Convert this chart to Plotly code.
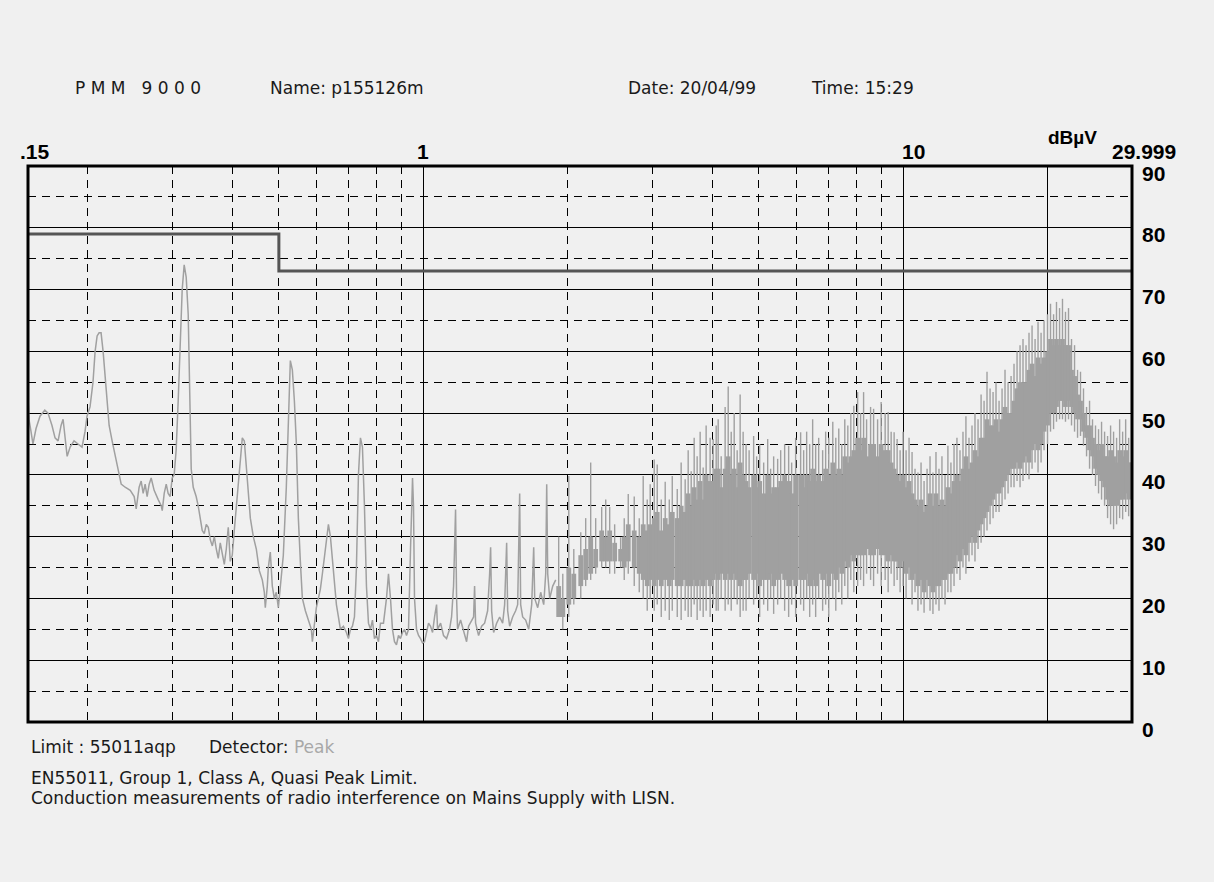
import plotly.graph_objects as go

# ---------------- data ----------------
# Peak detector trace, low-frequency part (MHz, dBuV)
lf_f = [0.150,0.1507,0.1522,0.1536,0.1559,0.1589,0.1626,0.1651,0.1683,0.1708,
        0.1733,0.1758,0.1775,0.1792,0.1810,0.1836,0.1871,0.1907,0.1944,0.1972,
        0.1991,0.2020,0.2049,0.2070,0.2090,0.2110,0.2130,0.2151,0.2172,0.2193,
        0.2214,0.2246,0.2279,0.2312,0.2346,0.2391,0.2450,0.2497,0.2521,0.2557,
        0.2582,0.2607,0.2632,0.2657,0.2683,0.2709,0.2748,0.2802,0.2843,0.2857,
        0.2884,0.2912,0.2939,0.2968,0.2996,0.3025,0.3054,0.3084,0.3114,0.3144,
        0.3174,0.3205,0.3236,0.3252,0.3267,0.3283,0.3315,0.3362,0.3395,0.3428,
        0.3461,0.3495,0.3529,0.3563,0.3598,0.3633,0.3668,0.3703,0.3738,0.3774,
        0.3811,0.3848,0.3885,0.3922,0.3960,0.3998,0.4037,0.4076,0.4115,0.4155,
        0.4195,0.4236,0.4277,0.4318,0.4360,0.4423,0.4487,0.4552,0.4618,0.4663,
        0.4685,0.4730,0.4753,0.4799,0.4845,0.4892,0.4939,0.4987,0.5035,0.5108,
        0.5182,0.5233,0.5283,0.5334,0.5386,0.5438,0.5490,0.5543,0.5597,0.5678,
        0.5761,0.5844,0.5872,0.5929,0.5986,0.6044,0.6102,0.6161,0.6220,0.6281,
        0.6342,0.6403,0.6465,0.6527,0.6590,0.6654,0.6718,0.6816,0.6914,0.6982,
        0.7049,0.7117,0.7186,0.7255,0.7325,0.7396,0.7467,0.7539,0.7612,0.7686,
        0.7760,0.7835,0.7910,0.7987,0.8064,0.8142,0.8260,0.8380,0.8461,0.8543,
        0.8625,0.8708,0.8792,0.8878,0.8963,0.9050,0.9137,0.9226,0.9315,0.9405,
        0.9450,0.9496,0.9541,0.9587,0.9680,0.9774,0.9868,0.9963,1.0059,1.0157,
        1.0255,1.0354,1.0454,1.0555,1.0657,1.0708,1.0864,1.1021,1.1181,1.1343,
        1.1453,1.1563,1.1675,1.1732,1.1788,1.1959,1.2133,1.2309,1.2428,1.2608,
        1.2730,1.2791,1.2853,1.3040,1.3229,1.3421,1.3616,1.3748,1.3814,1.3881,
        1.4015,1.4218,1.4425,1.4634,1.4775,1.4918,1.4990,1.5135,1.5354,1.5577,
        1.5728,1.5880,1.5956,1.6110,1.6344,1.6583,1.6823,1.6986,1.7068,1.7316,
        1.7567,1.7822,1.7994,1.8081,1.8168,1.8344,1.8610,1.8880]
lf_db = [52.5,49,47,45,47.5,49.5,50.5,50,48,46,
         45.5,48,49,46.5,43,44.5,45.5,45,44.5,47,
         49.5,51,55,60,62.5,63,63,60,56,52,
         48,45.5,43,41,38.5,38,37.5,36.5,34.5,38,
         39,37,38.5,36.5,38.5,39.5,37.5,36,35,34.2,
         37,38.5,37,36.5,39.5,40,44,52,62,70,
         74,72,66,58,50,41,38,36.5,35,33,
         31,30.5,32,31.5,29.5,28.5,30,28,26.5,29,
         27,25.5,28,31.5,26,27,31,35,39,43,
         46,45.5,41,36,33,30,28,24.5,23,21,
         18.5,22,25,27.5,22,20,21,18.5,22,27,
         38,50,58.5,57,52,45,33,26,20,18,
         16.5,15,13,16,18.5,20,21.5,24,27,30,
         32,30,26,22,19,17,15,15.5,14.5,13.5,
         15,15.5,17,25,40,46,44.5,35,22,16,
         15,16.5,13.5,14,13,16,16,20,24,20,
         15,13,12.5,14,13.5,14.5,15,14,15,28,
         36,39.5,35,20,15,14,13.5,12.8,13,14.5,
         16,15.5,14.5,17,19,15,16,14,13.5,15,
         17,22,34.4,20,15,16.5,14.5,13,15.5,16.5,
         17,22,16,14,15.5,16,18,24,28.3,18,
         14.5,16,17,16,19,29,18,15.5,17,18,
         19,37,19,17,16.5,15,19,28.3,20,18.5,
         21,19,24,38.5,24,20,22,23]

# Dense high-frequency part, one sweep column per frequency (MHz)
spk_f = [1.915,1.953,2.010,2.059,2.129,2.180,2.233,2.287,2.354,2.400,
         2.446,2.505,2.578,2.623,2.674,2.752,2.819,2.873,2.929,2.971,
         3.029,3.073,3.133,3.193,3.256,3.303,3.383,3.447,3.514,3.565,
         3.617,3.669,3.722,3.776,3.831,3.886,3.961,4.019,4.078,4.117,
         4.177,4.257,4.320,4.383,4.446,4.510,4.575,4.641,4.707,4.776,
         4.881,4.952,5.024,5.122,5.221,5.296,5.373,5.477,5.557,5.664,
         5.774,5.858,5.971,6.116,6.205,6.295,6.387,6.479,6.573,6.669,
         6.797,6.896,7.000,7.136,7.240,7.344,7.451,7.559,7.670,7.781,
         7.894,8.040,8.155,8.273,8.393,8.556,8.680,8.848,9.000,9.175,
         9.308,9.443,9.579,9.718,9.858,10.0,10.145,10.29,10.44,10.59,
         10.74,10.9,11.06,11.22,11.38,11.54,11.71,11.88,12.05,12.23,
         12.4,12.58,12.77,12.95,13.14,13.33,13.52,13.72,13.92,14.12,
         14.33,14.54,14.75,14.96,15.18,15.4,15.62,15.85,16.08,16.31,
         16.55,16.79,17.03,17.28,17.53,17.78,18.04,18.3,18.57,18.84,
         19.11,19.39,19.67,20.0,20.29,20.59,20.88,21.19,21.49,21.8,
         22.12,22.44,22.77,23.1,23.43,23.77,24.12,24.47,24.82,25.18,
         25.55,25.92,26.3,26.68,27.07,27.46,27.86,28.27,28.68,29.1,
         29.52,29.95]
# spike tips (max) and spike bottoms (min), dBuV
spk_hi = [30,24,39.8,28,30.7,33,42,33,34.8,36,
          34.8,32,29.9,33,36.9,36.5,33,39.8,36,38.5,
          42.5,41.7,36,38.9,36,39.8,37.7,42,39.3,44,
          40.6,46,43,47,41.2,48,46,45.8,48,49,
          43,51,54.3,47,50,44,53,47,45,44,
          46.3,43,45,42,45.8,41,43,42.6,44,45,
          44.7,42,46,46.9,44,47,45,49,45,46,
          44,47,46,48.6,46,47.5,45,49,48,50,
          51.2,53.4,50,53.4,49,51,50.7,49,51.8,50,
          50.2,47,46.9,45.8,44,47,44,46,43.7,41,
          40.4,42,39,41,43,40.4,43.7,41,43,40,
          44.7,42,45,46,44,47,49.5,46,48,50,
          49,53,52,56.7,54,53.4,55,52,54,57,
          55,56,58,60,61,62,61,63,64.2,62,
          64.8,63,65,66,67.7,66,68,67,68.5,66.4,
          67,62,61,57,56.7,54,51,52,49,48,
          47.4,48.6,47,46.3,48,47,46,49,47,49,
          46,45.8]
spk_lo = [17,15,17,19,20,22,23,24,25,25,
          24,24,25,23,24,22,21,20,18,20,
          18,19,17,18,16.5,18,17,16.5,18,17,
          17,19,16.5,18,17,18,17,19,18,18,
          20,18,19,18,20,19,17,18,18,20,
          19,20,17,19,18,20,17.5,19,20,18,
          17,19,17,19,18,20,17,19,17,20,
          18,19,17,20,18,21,19,22,20,23,
          21,22,23,22,24,23,22,24,22,23,
          21,24,22,23,21,22,20,23,19,21,
          18,19,17.7,20,18,17.5,19,18,20,19,
          21,21,22,24,23,25,24,26,27,26,
          28,29,30,31,32,33,34,34,35,36,
          37,38,38,39,38,39,40,39.3,41,42,
          40.4,42,44,45,47,47.4,48.6,49,49,48.6,
          49,48,47,46,46.3,44.7,43,41,40,38.2,
          37,36,35,33,32,31.2,32,33,32.8,34,
          33.3,34]
# dense (solid) body of each column, dBuV
body_lo = [17,17,19,20,22,23,24,25,26,26,
           26,26,26,25,26,25,24,23,22,23,
           22,23,22,23,22,23,22,22,23,22,
           22,23,22,23,22,23,22,23,24,23,
           24,23,24,23,24,23,22,23,23,24,
           23,24,22,23,23,24,22,23,24,23,
           22,23,22,23,23,24,22,23,22,24,
           23,24,22,24,23,25,24,26,25,27,
           26,27,27,27,28,27,27,28,27,27,
           26,27,26,26,25,26,24,25,23,24,
           22,23,21,23,22,21,22,22,23,23,
           24,24,25,27,26,28,27,29,30,29,
           31,32,33,34,35,36,37,37,38,39,
           40,41,41,42,41,42,43,42,44,45,
           44,45,47,48,50,50,51,52,52,51,
           52,51,50,49,49,47,46,44,43,41,
           40,39,38,36,35,35,35,36,36,37,
           36,37]
body_hi = [22,20,25,24,27,28,30,28,31,30,
           31,29,28,30,32,31,30,32,31,32,
           33,34,31,33,32,34,33,35,34,37,
           35,38,36,39,36,40,39,39,41,41,
           38,41,43,40,41,38,42,40,39,38,
           40,38,39,37,40,37,38,38,39,40,
           39,37,40,40,38,40,39,41,39,40,
           39,41,40,42,40,41,40,43,42,43,
           44,46,44,46,43,45,45,43,45,44,
           44,42,41,40,39,40,38,39,37,36,
           35,36,34,35,37,35,37,35,36,35,
           38,37,39,40,39,41,43,41,42,44,
           43,46,46,49,48,48,49,47,49,51,
           50,50,52,54,55,55,55,57,58,56,
           59,58,59,60,62,61,62,61,62,61,
           61,57,56,53,52,50,48,48,46,45,
           44,45,43,43,44,43,42,44,43,44,
           42,42]

# EN55011 Group 1 Class A quasi-peak limit
limit_f = [0.15, 0.5, 0.5, 29.999]
limit_db = [79, 79, 73, 73]

major_x = [1, 10, 20]
minor_x = [0.2, 0.3, 0.4, 0.5, 0.6, 0.7, 0.8, 0.9, 2, 3, 4, 5, 6, 7, 8, 9]
major_y = [0, 10, 20, 30, 40, 50, 60, 70, 80, 90]
minor_y = [5, 15, 25, 35, 45, 55, 65, 75, 85]

x_labels = [".15", "1", "10", "29.999"]
y_labels = ["0", "10", "20", "30", "40", "50", "60", "70", "80", "90"]

TRACE = "#a0a0a0"
BG = "#f0f0f0"

# ---------------- figure ----------------
fig = go.Figure()


def columns(fs, lows, highs):
    xs, ys = [], []
    for f, l, h in zip(fs, lows, highs):
        xs += [f, f, None]
        ys += [l, h, None]
    return xs, ys


# solid body of the dense part
bx, by = columns(spk_f, body_lo, body_hi)
fig.add_trace(go.Scatter(x=bx, y=by, mode="lines",
                         line=dict(width=4.8, color=TRACE),
                         showlegend=False, hoverinfo="skip"))
# thin spikes
sx, sy = columns(spk_f, spk_lo, spk_hi)
fig.add_trace(go.Scatter(x=sx, y=sy, mode="lines",
                         line=dict(width=1.4, color=TRACE),
                         showlegend=False, hoverinfo="skip"))

# low-frequency trace
fig.add_trace(go.Scatter(x=lf_f, y=lf_db, mode="lines",
                         line=dict(width=1.5, color=TRACE),
                         showlegend=False))

# limit line
fig.add_trace(go.Scatter(x=limit_f, y=limit_db, mode="lines",
                         line=dict(width=3, color="#555555"),
                         showlegend=False))

L, R, T, B = 28, 82, 166, 160
W, H = 1214, 882
PW, PH = W - L - R, H - T - B


def px(x):
    return (x - L) / PW


def py(y):
    return 1 - (y - T) / PH


fig.update_layout(
    width=W, height=H,
    margin=dict(l=L, r=R, t=T, b=B),
    paper_bgcolor=BG, plot_bgcolor=BG,
    showlegend=False,
    xaxis=dict(type="log", range=[-0.82391, 1.477107],
               tickvals=major_x, showticklabels=False, ticks="",
               showgrid=True, gridcolor="#000000", gridwidth=1,
               zeroline=False, showline=False,
               minor=dict(tickvals=minor_x, showgrid=True, gridcolor="#000000",
                          griddash="8px,6px", gridwidth=1, ticks="")),
    yaxis=dict(range=[0, 90], tickvals=major_y, showticklabels=False, ticks="",
               showgrid=True, gridcolor="#000000", gridwidth=1,
               zeroline=False, showline=False,
               minor=dict(tickvals=minor_y, showgrid=True, gridcolor="#000000",
                          griddash="8px,6px", gridwidth=1, ticks="")),
    shapes=[dict(type="rect", xref="paper", yref="paper", x0=0, x1=1, y0=0, y1=1,
                 line=dict(color="#000000", width=3), layer="above")],
)

bold = dict(family="Liberation Sans, Arial, sans-serif", size=21, color="#000000")
anns = []
# x labels on top
for txt, cx in zip(x_labels, [35, 423, 913, 1144]):
    anns.append(dict(text="<b>%s</b>" % txt, xref="paper", yref="paper",
                     x=px(cx), y=py(152), xanchor="center", yanchor="middle",
                     showarrow=False, font=bold))
anns.append(dict(text="<b>dBµV</b>", xref="paper", yref="paper",
                 x=px(1072), y=py(137), xanchor="center", yanchor="middle",
                 showarrow=False, font=dict(bold, size=19)))
# y labels on the right
for txt, v in zip(y_labels, major_y):
    anns.append(dict(text="<b>%s</b>" % txt, xref="paper", yref="y",
                     x=1, y=v, xanchor="left", yanchor="middle", xshift=8,
                     yshift=-7, showarrow=False, font=bold))

norm = dict(family="DejaVu Sans, Liberation Sans, sans-serif", size=17,
            color="#1a1a1a")
head = [("P M M   9 0 0 0", 73), ("Name: p155126m", 268),
        ("Date: 20/04/99", 626), ("Time: 15:29", 809)]
for txt, x0 in head:
    anns.append(dict(text=txt, xref="paper", yref="paper", x=px(x0), y=py(88),
                     xanchor="left", yanchor="middle", showarrow=False,
                     font=norm))

foot = [("Limit : 55011aqp", 29, 747),
        ("Detector: <span style='color:#a8a8a8'>Peak</span>", 207, 747),
        ("EN55011, Group 1, Class A, Quasi Peak Limit.", 29, 778),
        ("Conduction measurements of radio interference on Mains Supply with LISN.", 29, 798)]
for txt, xx, yy in foot:
    anns.append(dict(text=txt, xref="paper", yref="paper", x=px(xx), y=py(yy),
                     xanchor="left", yanchor="middle", showarrow=False,
                     font=norm))

fig.update_layout(annotations=anns)

fig.write_html("out.html")
